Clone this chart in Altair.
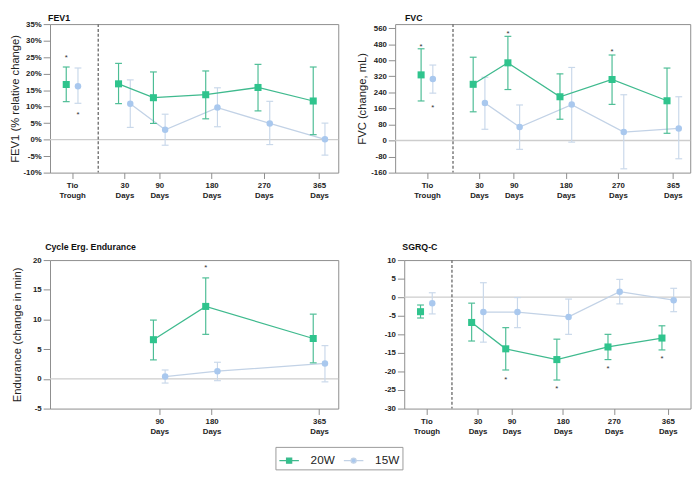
import altair as alt
import pandas as pd

# ---------------- data ----------------
SERIES = ["20W", "15W"]
CATS = ["Tio Trough", "30 Days", "90 Days", "180 Days", "270 Days", "365 Days"]
CAT_DAY = [-60, 30, 90, 180, 270, 365]        # Tio Trough is placed before day 0
DIVIDER_DAY = -15
CYCLE_CATS = ["90 Days", "180 Days", "365 Days"]
CYCLE_DAY = [90, 180, 365]

fev1_20 = [16.7, 16.9, 12.7, 13.6, 15.8, 11.7]
fev1_20_lo = [11.5, 10.9, 4.9, 6.3, 8.7, 1.5]
fev1_20_hi = [22.0, 23.1, 20.5, 20.8, 22.8, 22.0]
fev1_15 = [16.2, 10.9, 3.0, 9.7, 4.9, 0.1]
fev1_15_lo = [11.0, 3.7, -1.7, 3.9, -1.5, -4.7]
fev1_15_hi = [21.7, 18.1, 7.7, 15.7, 11.6, 5.0]
fev1_stars = [("20W", "Tio Trough", 25.3), ("15W", "Tio Trough", 7.9)]

fvc_20 = [327, 280, 387, 218, 304, 198]
fvc_20_lo = [197, 143, 254, 106, 180, 36]
fvc_20_hi = [457, 415, 519, 332, 426, 361]
fvc_15 = [306, 187, 67, 179, 42, 60]
fvc_15_lo = [236, 56, -44, -8, -141, -91]
fvc_15_hi = [376, 315, 177, 364, 228, 218]
fvc_stars = [("20W", "Tio Trough", 476), ("15W", "Tio Trough", 172),
             ("20W", "90 Days", 541), ("20W", "270 Days", 450)]

cyc_20 = [6.6, 12.2, 6.8]
cyc_20_lo = [3.2, 7.5, 2.7]
cyc_20_hi = [9.9, 17.0, 10.9]
cyc_15 = [0.4, 1.3, 2.6]
cyc_15_lo = [-0.7, -0.3, -0.5]
cyc_15_hi = [1.5, 2.8, 5.6]
cyc_stars = [("20W", "180 Days", 19.0)]

sgrq_20 = [-3.9, -6.8, -13.9, -16.8, -13.4, -11.0]
sgrq_20_lo = [-5.6, -11.8, -19.6, -22.3, -16.8, -14.2]
sgrq_20_hi = [-2.1, -1.6, -8.2, -11.3, -10.0, -7.7]
sgrq_15 = [-1.6, -4.0, -4.0, -5.3, 1.5, -0.8]
sgrq_15_lo = [-4.5, -12.1, -8.2, -10.0, -1.8, -3.9]
sgrq_15_hi = [1.2, 3.9, -0.1, -0.5, 4.8, 2.4]
sgrq_stars = [("20W", "90 Days", -21.8), ("20W", "180 Days", -24.3),
              ("20W", "270 Days", -18.9), ("20W", "365 Days", -16.2)]

# ---------------- styles ----------------
FONT = "Liberation Sans"
STYLE = {
    "20W": dict(mark="square", fill="#2fc48d", line="#3fba8e", err="#4cbd95", off=-6),
    "15W": dict(mark="circle", fill="#a9c8ee", line="#c2d2e6", err="#c9d8ea", off=6),
}
SQ_PATH = "M-1,0H-0.26M0.26,0H1M-0.26,-0.26H0.26V0.26H-0.26Z"
CI_PATH = "M-1,0H-0.26M0.26,0H1M0.26,0A0.26,0.26,0,1,1,-0.26,0A0.26,0.26,0,1,1,0.26,0Z"


def build_df(cats, days, v20, lo20, hi20, v15, lo15, hi15):
    rows = []
    for s, v, lo, hi in (("20W", v20, lo20, hi20), ("15W", v15, lo15, hi15)):
        for c, d, a, b, e in zip(cats, days, v, lo, hi):
            rows.append(dict(series=s, cat=c, day=d, val=a, lo=b, hi=e))
    return pd.DataFrame(rows)


def build_stars(stars, cats, days):
    lookup = dict(zip(cats, days))
    return pd.DataFrame([dict(series=s, day=lookup[c], y=y) for s, c, y in stars])


def panel(df, stars, title, ytitle, ydom, yvals, xdom, xvals, width, pct=False,
          divider=True, title_dx=0, title_offset=1, ytp=3, legend=False):
    xs = alt.Scale(domain=xdom, nice=False, zero=False)
    ys = alt.Scale(domain=ydom, nice=False, zero=False)
    xax = alt.Axis(values=xvals, title=None, labelAngle=0,
                   labelExpr="datum.value < 0 ? ['Tio', 'Trough'] : [datum.label, 'Days']",
                   tickSize=6, labelPadding=3, labelLineHeight=10, labelBaseline="top")
    ylab = "datum.value + '%'" if pct else "'' + datum.value"
    yax = alt.Axis(values=yvals, labelExpr=ylab, tickSize=7, labelPadding=2,
                   titlePadding=ytp, title=ytitle if ytitle else None)

    def X(f):
        return alt.X(f"{f}:Q", scale=xs, axis=xax)

    def Y(f):
        return alt.Y(f"{f}:Q", scale=ys, axis=yax)

    layers = [
        alt.Chart(pd.DataFrame({"v": [0]})).mark_rule(color="#cdcdcd", strokeWidth=1.3)
        .encode(y=Y("v"))
    ]
    if divider:
        layers.append(
            alt.Chart(pd.DataFrame({"d": [DIVIDER_DAY]}))
            .mark_rule(color="#7a7a7a", strokeDash=[3, 2], strokeWidth=1.5)
            .encode(x=X("d"))
        )
    for s in ["15W", "20W"]:
        st = STYLE[s]
        sd = df[df.series == s]
        base = alt.Chart(sd)
        off = st["off"]
        layers.append(base.mark_rule(color=st["err"], strokeWidth=1.2, xOffset=off)
                      .encode(x=X("day"), y=Y("lo"), y2="hi"))
        for f in ("lo", "hi"):
            layers.append(base.mark_rule(color=st["err"], strokeWidth=1.2,
                                         xOffset=off - 3.5, x2Offset=off + 3.5)
                          .encode(x=X("day"), x2="day", y=Y(f)))
        layers.append(base.transform_filter("datum.day > 0")
                      .mark_line(color=st["line"], strokeWidth=1.3, xOffset=off)
                      .encode(x=X("day"), y=Y("val")))
        if st["mark"] == "square":
            m = base.mark_square(size=52, color=st["fill"], opacity=1, xOffset=off)
        else:
            m = base.mark_circle(size=44, color=st["fill"], opacity=1, xOffset=off)
        layers.append(m.encode(x=X("day"), y=Y("val")))
        ss = stars[stars.series == s]
        if len(ss):
            layers.append(alt.Chart(ss).mark_text(text="*", fontSize=8, color="#333",
                                                  dx=off, dy=2, font=FONT)
                          .encode(x=X("day"), y=Y("y")))
    if legend:
        leg = alt.Legend(orient="none", legendX=230.7, legendY=432.7, direction="horizontal",
                         title=None, labelFont=FONT, labelFontSize=12, labelColor="#222",
                         symbolSize=400, symbolStrokeWidth=1.3, strokeColor="#9a9a9a",
                         padding=3, columnPadding=6, labelOffset=11)
        ldf = pd.DataFrame({"series": SERIES})
        layers.append(
            alt.Chart(ldf).transform_filter("false")
            .mark_point(filled=True, opacity=1)
            .encode(
                x=alt.value(0), y=alt.value(0),
                fill=alt.Fill("series:N", scale=alt.Scale(domain=SERIES, range=[STYLE["20W"]["fill"], STYLE["15W"]["fill"]]), legend=leg),
                stroke=alt.Stroke("series:N", scale=alt.Scale(domain=SERIES, range=[STYLE["20W"]["line"], STYLE["15W"]["line"]]), legend=leg),
                shape=alt.Shape("series:N", scale=alt.Scale(domain=SERIES, range=[SQ_PATH, CI_PATH]), legend=leg),
            )
        )
    return alt.layer(*layers).properties(
        width=width, height=152,
        title=alt.TitleParams(text=title, anchor="start", dx=title_dx, offset=title_offset,
                              frame="group", fontSize=9, lineHeight=7, font=FONT,
                              fontWeight="bold", color="#111"),
    )


fev1_df = build_df(CATS, CAT_DAY, fev1_20, fev1_20_lo, fev1_20_hi, fev1_15, fev1_15_lo, fev1_15_hi)
fvc_df = build_df(CATS, CAT_DAY, fvc_20, fvc_20_lo, fvc_20_hi, fvc_15, fvc_15_lo, fvc_15_hi)
cyc_df = build_df(CYCLE_CATS, CYCLE_DAY, cyc_20, cyc_20_lo, cyc_20_hi, cyc_15, cyc_15_lo, cyc_15_hi)
sgrq_df = build_df(CATS, CAT_DAY, sgrq_20, sgrq_20_lo, sgrq_20_hi, sgrq_15, sgrq_15_lo, sgrq_15_hi)

p1 = panel(fev1_df, build_stars(fev1_stars, CATS, CAT_DAY), "FEV1", "FEV1 (% relative change)",
           [-10, 35], list(range(-10, 36, 5)), [-98, 398], CAT_DAY, 295, pct=True,
           title_dx=-2, title_offset=-3, ytp=3, legend=True)
p2 = panel(fvc_df, build_stars(fvc_stars, CATS, CAT_DAY), "FVC", "FVC (change, mL)",
           [-160, 580], list(range(-160, 561, 80)), [-115, 395], CAT_DAY, 302,
           title_dx=10, title_offset=0, ytp=3)
p3 = panel(cyc_df, build_stars(cyc_stars, CYCLE_CATS, CYCLE_DAY), "Cycle Erg. Endurance",
           "Endurance (change in min)", [-5, 20], list(range(-5, 21, 5)), [-98, 398], CYCLE_DAY, 295,
           divider=False, title_dx=-5, title_offset=4.5, ytp=10)
p4 = panel(sgrq_df, build_stars(sgrq_stars, CATS, CAT_DAY), "SGRQ-C", None,
           [-30, 10], list(range(-30, 11, 5)), [-99, 405], CAT_DAY, 293,
           title_dx=-2, title_offset=4.5)

row1 = alt.hconcat(p1, p2, spacing=58.2, bounds="flush")
row2 = alt.hconcat(p3, p4, spacing=67.5, bounds="flush")

chart = (
    alt.vconcat(row1, row2, spacing=43.5, bounds="full")
    .properties(padding={"left": 0, "top": 0, "right": 0, "bottom": 0}, background="white")
    .configure(padding={"left": 0, "top": 0, "right": 0, "bottom": 0})
    .configure_view(stroke="#8c8c8c", strokeWidth=1)
    .configure_axis(domain=False, grid=False, tickColor="#8c8c8c",
                    labelFont=FONT, labelFontWeight="bold", labelFontSize=8, labelColor="#222",
                    titleFont=FONT, titleFontWeight="normal", titleFontSize=11.5, titleColor="#222")
)

chart.save("out.html", embed_options={"renderer": "svg", "actions": False})
